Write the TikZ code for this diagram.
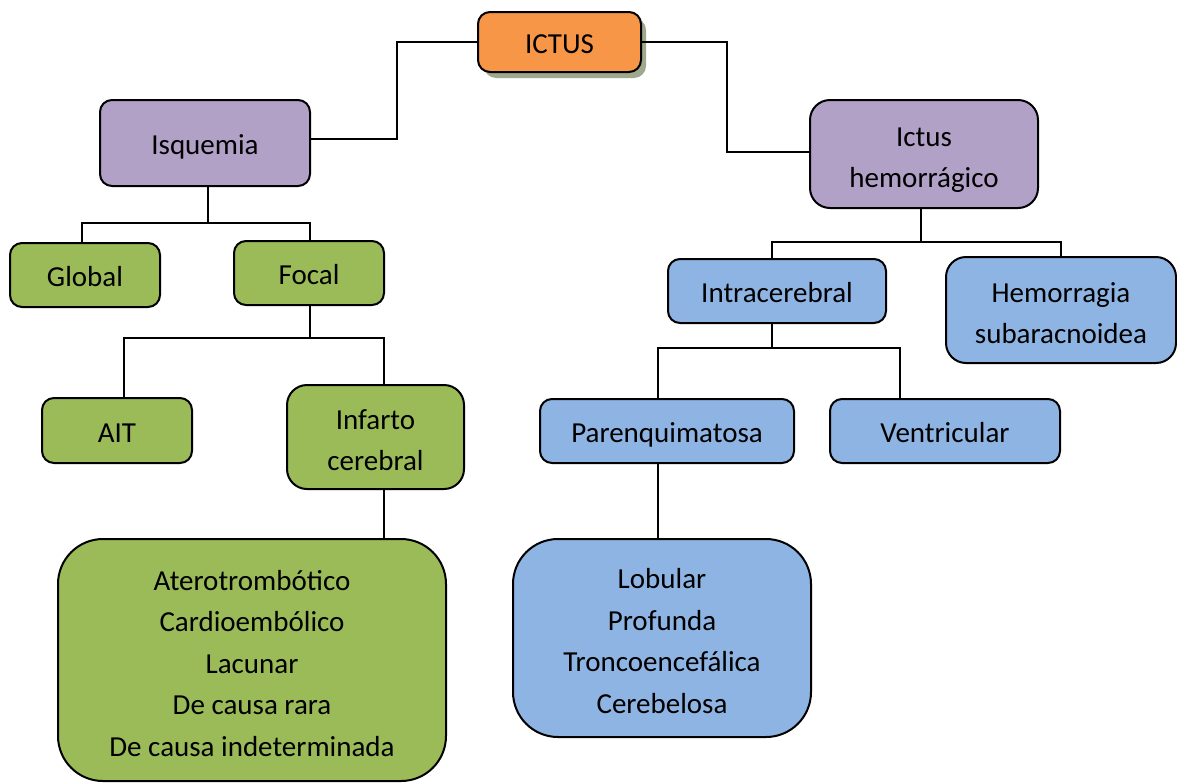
\documentclass[tikz,border=0pt]{standalone}
\usepackage{fontspec}
\setmainfont{Carlito}
\usepackage{tikz}

\definecolor{ictusorange}{RGB}{247,150,70}
\definecolor{isqpurple}{RGB}{178,161,199}
\definecolor{isqgreen}{RGB}{155,187,89}
\definecolor{hemblue}{RGB}{142,180,227}
\definecolor{shadowgray}{RGB}{160,168,140}

\tikzset{
  caja/.style={draw=black, line width=2pt, rounded corners=12pt, align=center, inner sep=0pt,
    font=\fontsize{29}{41.5}\selectfont, text height=29pt, text depth=6pt},
  lineas/.style={text height=32pt+(#1-1)*41.5pt},
  verde/.style={caja, fill=isqgreen},
  morado/.style={caja, fill=isqpurple},
  azul/.style={caja, fill=hemblue},
  enlace/.style={line width=2pt}
}

\begin{document}
\begin{tikzpicture}[x=1pt,y=-1pt]
				\useasboundingbox (0,0) rectangle (1177,782);
				\fill[shadowgray, rounded corners=12pt] (484,18) rectangle (646,78);
				\node[caja, fill=ictusorange, minimum width=163pt, minimum height=60pt] (ictus) at (559.5,42) {ICTUS};
				\node[morado, minimum width=210pt, minimum height=86pt] (isq) at (205,143) {Isquemia};
				\node[morado, lineas=2, rounded corners=20pt, minimum width=228pt, minimum height=108pt] (hem) at (924,154) {Ictus\\hemorrágico};
				\node[verde, minimum width=150pt, minimum height=64pt] (glob) at (85,275) {Global};
				\node[verde, minimum width=150pt, minimum height=64pt] (focal) at (309,273) {Focal};
				\node[verde, minimum width=150pt, minimum height=65pt] (ait) at (117,430.5) {AIT};
				\node[verde, lineas=2, rounded corners=20pt, minimum width=177pt, minimum height=104pt] (inf) at (375.5,437) {Infarto\\cerebral};
				\node[verde, lineas=5, rounded corners=45pt, minimum width=388pt, minimum height=242pt] (tipos) at (252,660) {Aterotrombótico\\Cardioembólico\\Lacunar\\De causa rara\\De causa indeterminada};
				\node[azul, minimum width=218pt, minimum height=64pt] (intra) at (777,291) {Intracerebral};
				\node[azul, lineas=2, rounded corners=20pt, minimum width=230pt, minimum height=106pt] (hsa) at (1061,310) {Hemorragia\\subaracnoidea};
				\node[azul, minimum width=254pt, minimum height=64pt] (paren) at (667,431) {Parenquimatosa};
				\node[azul, minimum width=230pt, minimum height=64pt] (vent) at (945,431) {Ventricular};
				\node[azul, lineas=4, rounded corners=45pt, minimum width=298pt, minimum height=198pt] (lob) at (662,638) {Lobular\\Profunda\\Troncoencefálica\\Cerebelosa};
				% ramas
				\draw[enlace] (ictus.west) -- ++(-80,0) |- ([yshift=4]isq.east);
				\draw[enlace] (ictus.east) -- ++(85,0) |- ([yshift=2]hem.west);
				\draw[enlace] ([xshift=3]isq.south) -- ++(0,36) coordinate (isqj);
				\draw[enlace] ([xshift=-3]glob.north) |- (isqj) -| ([xshift=1]focal.north);
				\draw[enlace] ([xshift=1]focal.south) -- ++(0,32) coordinate (focj);
				\draw[enlace] ([xshift=7]ait.north) |- (focj) -| ([xshift=8.5]inf.north);
				\draw[enlace] ([xshift=8.5]inf.south) -- ([xshift=8.5]inf.south |- tipos.north);
				\draw[enlace] ([xshift=-3]hem.south) -- ++(0,33) coordinate (hemj);
				\draw[enlace] ([xshift=-5]intra.north) |- (hemj) -| (hsa.north);
				\draw[enlace] ([xshift=-5]intra.south) -- ++(0,24) coordinate (intj);
				\draw[enlace] ([xshift=-9]paren.north) |- (intj) -| ([xshift=-45]vent.north);
				\draw[enlace] ([xshift=-9]paren.south) -- ([xshift=-9]paren.south |- lob.north);
			\end{tikzpicture}
\end{document}
